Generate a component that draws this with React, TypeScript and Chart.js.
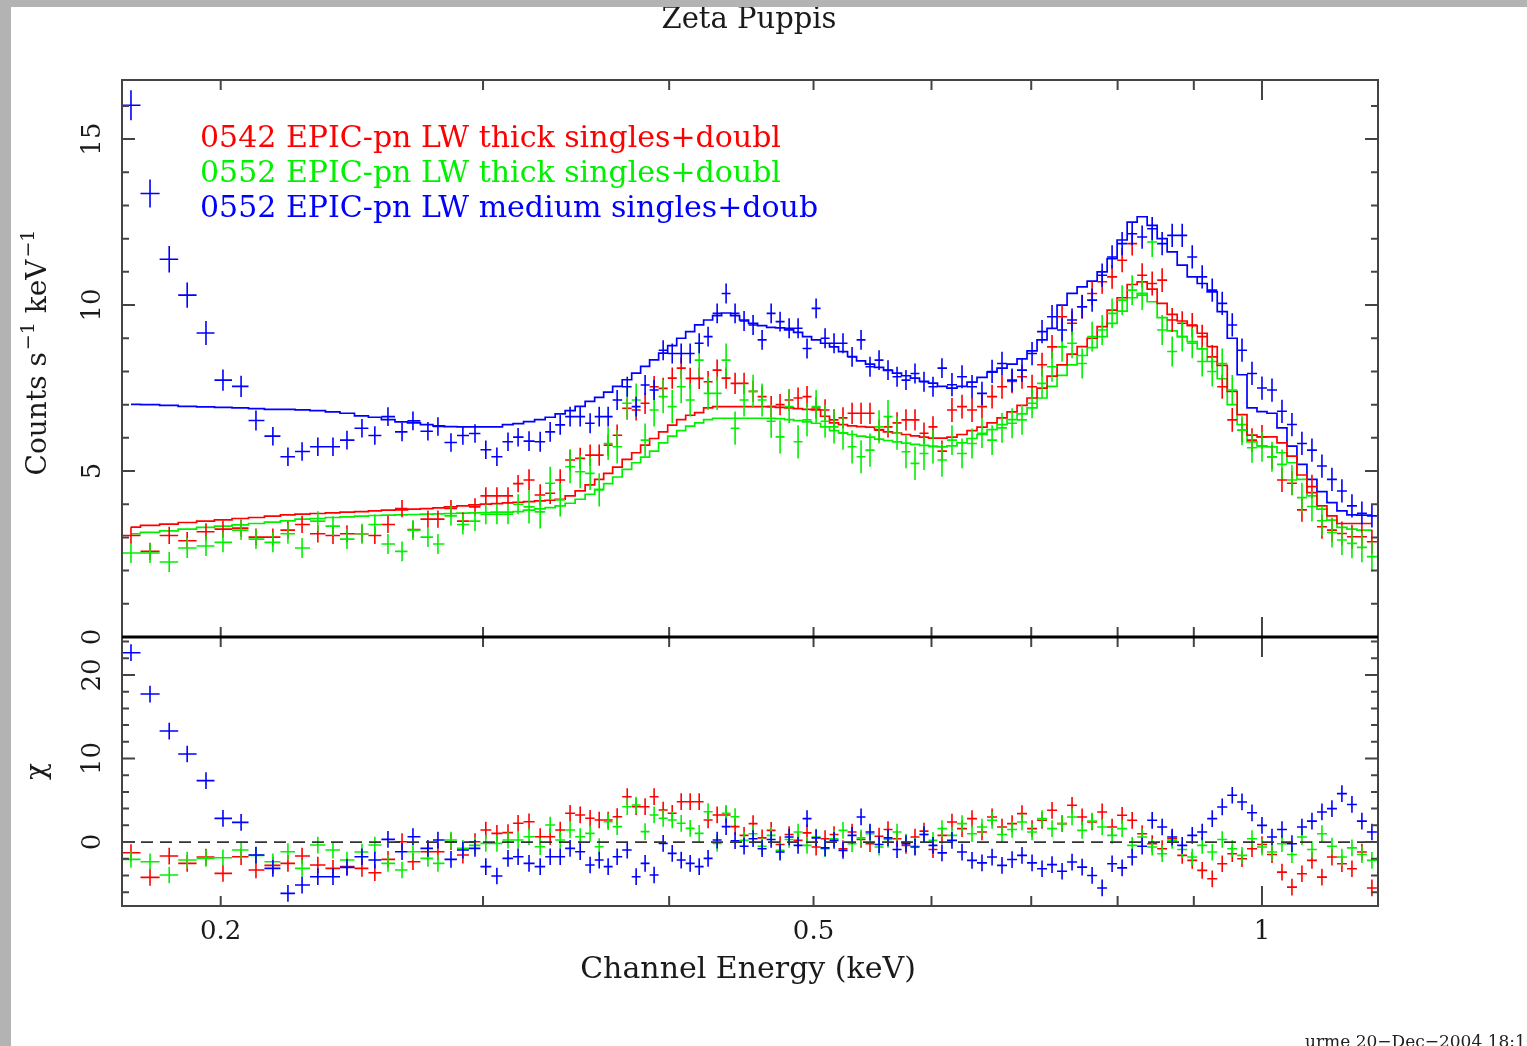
import React, { useEffect, useRef } from "react";
import { Chart, registerables } from "chart.js";

Chart.register(...registerables);

// ---------- chart values ----------
const titleText = "Zeta Puppis";
const xAxisTitle = "Channel Energy (keV)";
const footerText = "urme 20\u2212Dec\u22122004 18:10";

const energies = [
  0.1741, 0.1793, 0.1847, 0.1899, 0.1955, 0.2007, 0.2064, 0.2112, 0.2168, 0.2219,
  0.2268, 0.2324, 0.2379, 0.2431, 0.2488, 0.2538, 0.2590, 0.2647, 0.2692, 0.2755,
  0.2798, 0.2855, 0.2908, 0.2963, 0.3013, 0.3065, 0.3118, 0.3167,
  0.3221, 0.3277, 0.3328, 0.3380, 0.3432, 0.3486, 0.3540, 0.3590, 0.3640, 0.3691,
  0.3749, 0.3801, 0.3854, 0.3908, 0.3963, 0.4019, 0.4075, 0.4132, 0.4190, 0.4248,
  0.4308, 0.4368, 0.4429, 0.4491, 0.4554, 0.4618, 0.4683, 0.4748, 0.4815, 0.4882,
  0.4950, 0.5020, 0.5090, 0.5161, 0.5233, 0.5307, 0.5381, 0.5456, 0.5533, 0.5610,
  0.5689, 0.5768, 0.5849, 0.5931, 0.6014, 0.6098,
  0.6193, 0.6290, 0.6388, 0.6487, 0.6589, 0.6691, 0.6796, 0.6901, 0.7009, 0.7118,
  0.7229, 0.7342, 0.7456, 0.7573, 0.7691, 0.7811, 0.7932, 0.8056, 0.8182, 0.8309,
  0.8439, 0.8570, 0.8704, 0.8840, 0.8978, 0.9117, 0.9260, 0.9404, 0.9551, 0.9696,
  0.9847, 1.0000, 1.0156, 1.0314, 1.0474, 1.0637, 1.0803, 1.0971, 1.1142, 1.1315,
  1.1492, 1.1670, 1.1852,
];

// 0542 EPIC-pn LW thick (red)
const redCounts = [
  3.06, 2.58, 3.06, 2.90, 3.17, 3.25, 3.28, 3.01, 3.01, 3.22,
  3.39, 3.11, 3.06, 3.11, 3.11, 3.06, 3.39, 3.87, 3.24, 3.55,
  3.55, 3.87, 3.49, 3.92, 4.25, 4.25, 4.25, 4.62,
  4.73, 4.28, 4.33, 4.73, 5.33, 5.38, 5.48, 5.48, 5.78, 6.08,
  6.89, 6.84, 7.04, 7.54, 7.49, 7.80, 8.10, 7.79, 7.79, 7.69,
  8.04, 7.80, 7.64, 7.64, 7.40, 7.24, 6.94, 7.00, 7.14, 7.20,
  7.24, 6.90, 6.84, 6.54, 6.60, 6.74, 6.74, 6.74, 6.23, 6.33,
  6.45, 6.54, 6.54, 6.14, 6.33, 5.60,
  6.84, 6.94, 6.84, 6.94, 7.24, 7.54, 7.70, 7.84, 7.54, 8.20,
  8.74, 9.65, 9.45, 9.95, 10.35, 10.70, 10.85, 11.35, 11.85, 10.90,
  10.65, 10.75, 9.55, 9.45, 9.40, 9.05, 8.44, 7.54, 6.54, 6.23,
  5.93, 6.03, 5.43, 4.73, 4.63, 3.83, 4.53, 3.32, 3.22, 3.12,
  3.02, 3.02, 2.87,
];
const redErrors = [
  0.26, 0.26, 0.26, 0.26, 0.26, 0.26, 0.26, 0.26, 0.26, 0.26,
  0.26, 0.26, 0.26, 0.26, 0.26, 0.26, 0.26, 0.26, 0.26, 0.26,
  0.26, 0.26, 0.26, 0.26, 0.26, 0.26, 0.26, 0.26,
  0.32, 0.32, 0.32, 0.32, 0.32, 0.32, 0.32, 0.32, 0.32, 0.32,
  0.32, 0.32, 0.32, 0.32, 0.32, 0.32, 0.32, 0.32, 0.32, 0.32,
  0.32, 0.32, 0.32, 0.32, 0.32, 0.32, 0.32, 0.32, 0.32, 0.32,
  0.32, 0.32, 0.32, 0.32, 0.32, 0.32, 0.32, 0.32, 0.32, 0.32,
  0.32, 0.32, 0.32, 0.32, 0.32, 0.32,
  0.36, 0.36, 0.36, 0.36, 0.36, 0.36, 0.36, 0.36, 0.36, 0.36,
  0.36, 0.36, 0.36, 0.36, 0.36, 0.36, 0.36, 0.36, 0.36, 0.36,
  0.36, 0.36, 0.36, 0.36, 0.36, 0.36, 0.36, 0.36, 0.36, 0.36,
  0.36, 0.36, 0.36, 0.36, 0.36, 0.36, 0.36, 0.36, 0.36, 0.36,
  0.36, 0.36, 0.36,
];
const redModel = [
  3.31, 3.36, 3.40, 3.45, 3.49, 3.53, 3.57, 3.60, 3.64, 3.68,
  3.70, 3.72, 3.74, 3.76, 3.78, 3.80, 3.82, 3.83, 3.85, 3.87,
  3.89, 3.92, 3.95, 3.98, 4.00, 4.02, 4.04, 4.06,
  4.08, 4.10, 4.12, 4.15, 4.25, 4.40, 4.58, 4.75, 4.93, 5.12,
  5.35, 5.55, 5.78, 5.98, 6.18, 6.38, 6.55, 6.68, 6.76, 6.90,
  6.94, 6.94, 6.94, 6.94, 6.94, 6.94, 6.94, 6.92, 6.90, 6.88,
  6.86, 6.84, 6.65, 6.45, 6.40, 6.36, 6.34, 6.32, 6.25, 6.18,
  6.14, 6.10, 6.06, 6.02, 5.99, 5.99,
  6.02, 6.10, 6.22, 6.32, 6.45, 6.60, 6.78, 6.98, 7.20, 7.50,
  7.86, 8.20, 8.52, 8.75, 9.00, 9.35, 9.85, 10.22, 10.62, 10.70,
  10.48, 10.05, 9.72, 9.52, 9.38, 9.15, 8.75, 8.18, 7.40, 6.70,
  6.08, 6.03, 6.03, 5.85, 5.45, 4.88, 4.35, 3.95, 3.65, 3.42,
  3.42, 3.42, 3.42,
];
const redResiduals = [
  -1.28, -4.23, -1.68, -2.56, -1.80, -3.75, -1.76, -3.35, -2.80, -2.56,
  -1.68, -2.75, -3.15, -2.95, -3.15, -3.67, -2.08, 0.04, -2.36, -1.16,
  -1.16, 0.04, -1.56, 0.04, 1.44, 1.04, 1.12, 2.24,
  2.43, 0.64, 0.64, 1.44, 3.44, 3.24, 2.84, 2.64, 2.64, 3.03,
  5.43, 4.23, 4.23, 5.43, 3.83, 3.44, 4.83, 4.83, 4.83, 2.64,
  3.24, 3.24, 1.84, 0.80, 2.20, 0.50, 1.40, -0.30, 0.90, 0.20,
  1.10, -0.60, 0.40, 0.90, -0.80, 1.20, 0.30, -0.20, 0.70, 1.50,
  0.40, -0.40, 0.60, 1.30, -0.90, 0.80,
  2.40, 1.60, 2.80, 1.20, 3.00, 1.80, 2.20, 3.40, 1.60, 2.60,
  3.80, 2.20, 4.40, 3.00, 2.40, 3.60, 1.80, 3.20, 2.60, 1.00,
  -0.20, -0.80, 0.40, -1.60, -2.20, -3.40, -4.40, -2.60, -1.40, -2.00,
  -0.80, -0.30, -1.50, -3.60, -5.40, -3.80, -2.20, -4.20, -1.80, -2.60,
  -3.20, -1.20, -5.50,
];

// 0552 EPIC-pn LW thick (green)
const greenCounts = [
  2.53, 2.53, 2.26, 2.68, 2.74, 2.85, 3.22, 2.95, 2.85, 3.11,
  2.68, 3.49, 3.34, 2.95, 3.11, 3.39, 2.80, 2.58, 3.22, 3.01,
  2.80, 3.65, 3.39, 3.49, 3.70, 3.70, 3.70, 4.00,
  3.92, 3.77, 4.63, 4.13, 5.13, 4.98, 4.93, 4.43, 5.83, 5.73,
  7.04, 7.14, 5.93, 6.84, 7.24, 6.94, 7.54, 7.14, 8.34, 7.34,
  7.34, 8.34, 6.29, 7.14, 7.40, 7.14, 6.50, 6.03, 6.94, 5.88,
  6.54, 6.94, 6.50, 6.33, 6.14, 5.73, 5.43, 5.63, 6.33, 6.64,
  6.14, 5.58, 5.23, 5.53, 5.73, 5.33,
  5.93, 5.53, 5.83, 6.14, 5.93, 6.30, 6.44, 6.54, 7.04, 7.64,
  8.14, 8.74, 8.85, 8.24, 9.05, 9.25, 9.75, 10.15, 10.45, 10.30,
  11.90, 9.25, 8.60, 9.05, 8.85, 8.30, 8.00, 8.24, 7.44, 6.23,
  5.70, 5.73, 5.43, 5.20, 4.73, 4.20, 3.93, 3.50, 3.15, 2.92,
  2.82, 2.70, 2.42,
];
const greenErrors = [
  0.30, 0.30, 0.30, 0.30, 0.30, 0.30, 0.30, 0.30, 0.30, 0.30,
  0.30, 0.30, 0.30, 0.30, 0.30, 0.30, 0.30, 0.30, 0.30, 0.30,
  0.30, 0.30, 0.30, 0.30, 0.30, 0.30, 0.30, 0.30,
  0.50, 0.50, 0.50, 0.50, 0.50, 0.50, 0.50, 0.50, 0.50, 0.50,
  0.50, 0.50, 0.50, 0.50, 0.50, 0.50, 0.50, 0.50, 0.50, 0.50,
  0.50, 0.50, 0.50, 0.50, 0.50, 0.50, 0.50, 0.50, 0.50, 0.50,
  0.50, 0.50, 0.50, 0.50, 0.50, 0.50, 0.50, 0.50, 0.50, 0.50,
  0.50, 0.50, 0.50, 0.50, 0.50, 0.50,
  0.45, 0.45, 0.45, 0.45, 0.45, 0.45, 0.45, 0.45, 0.45, 0.45,
  0.45, 0.45, 0.45, 0.45, 0.45, 0.45, 0.45, 0.45, 0.45, 0.45,
  0.45, 0.45, 0.45, 0.45, 0.45, 0.45, 0.45, 0.45, 0.45, 0.45,
  0.45, 0.45, 0.45, 0.45, 0.45, 0.45, 0.45, 0.45, 0.45, 0.45,
  0.45, 0.45, 0.45,
];
const greenModel = [
  3.11, 3.15, 3.20, 3.25, 3.30, 3.34, 3.38, 3.42, 3.46, 3.50,
  3.55, 3.57, 3.60, 3.62, 3.64, 3.66, 3.67, 3.68, 3.69, 3.70,
  3.71, 3.72, 3.73, 3.74, 3.75, 3.76, 3.76, 3.78,
  3.82, 3.86, 3.90, 3.95, 4.03, 4.15, 4.30, 4.45, 4.62, 4.82,
  5.05, 5.25, 5.42, 5.60, 5.85, 6.05, 6.22, 6.35, 6.45, 6.55,
  6.59, 6.59, 6.59, 6.59, 6.59, 6.59, 6.59, 6.58, 6.55, 6.52,
  6.48, 6.44, 6.33, 6.22, 6.15, 6.10, 6.05, 6.02, 5.96, 5.92,
  5.88, 5.84, 5.80, 5.77, 5.75, 5.73,
  5.76, 5.85, 5.98, 6.10, 6.25, 6.40, 6.55, 6.72, 6.90, 7.20,
  7.55, 7.88, 8.20, 8.48, 8.72, 9.05, 9.45, 9.82, 10.22, 10.35,
  10.10, 9.62, 9.22, 9.05, 8.90, 8.68, 8.30, 7.78, 7.00, 6.40,
  5.88, 5.76, 5.73, 5.55, 5.25, 4.75, 4.25, 3.85, 3.52, 3.30,
  3.25, 3.22, 3.22,
];
const greenResiduals = [
  -2.08, -2.36, -3.95, -2.16, -1.96, -1.88, -0.96, -1.60, -2.36, -1.16,
  -3.15, -0.36, -0.96, -2.16, -1.20, -0.36, -2.56, -3.35, -1.16, -1.96,
  -2.56, 0.24, -0.76, -0.40, -0.16, -0.16, 0.24, 0.24,
  0.64, -0.56, 2.04, 0.24, 1.44, 0.64, 1.04, -0.56, 2.43, 1.84,
  4.23, 4.43, 1.24, 3.24, 2.84, 2.64, 2.24, 1.64, 1.04, 3.63,
  -0.16, 3.44, 3.03, 0.20, 1.00, -0.50, 0.80, -1.00, 0.30, 1.20,
  -0.40, 0.60, -0.80, 0.40, 1.40, -0.20, 0.50, 1.00, -0.60, 0.30,
  1.20, 0.00, -0.50, 0.90, 0.20, 1.60,
  0.80, 2.20, 1.00, 1.80, 2.60, 0.90, 1.50, 2.40, 1.20, 2.80,
  1.60, 2.20, 3.00, 1.40, 2.50, 1.80, 0.80, 1.60, -0.40, 0.60,
  -0.60, -1.40, 0.20, -0.90, -1.80, -0.40, -1.20, 0.30, -0.80, -1.60,
  0.40, -0.60, -1.20, -0.20, -1.50, 0.60, -0.90, 1.00, -0.50, -1.80,
  -0.70, -1.50, -2.20,
];

// 0552 EPIC-pn LW medium (blue)
const blueCounts = [
  16.02, 13.36, 11.38, 10.30, 9.16, 7.74, 7.55, 6.52, 6.05, 5.43,
  5.59, 5.73, 5.73, 5.93, 6.29, 6.07, 6.64, 6.18, 6.51, 6.20,
  6.34, 5.86, 6.07, 6.13, 5.64, 5.43, 5.88, 6.02,
  5.90, 5.88, 6.18, 6.39, 6.64, 6.64, 6.44, 6.64, 6.64, 7.14,
  7.54, 6.94, 7.59, 7.44, 8.64, 8.54, 8.54, 8.54, 8.85, 9.05,
  9.75, 10.35, 9.75, 9.52, 9.40, 8.95, 9.75, 9.50, 9.30, 9.30,
  8.69, 9.90, 9.00, 8.85, 8.85, 8.44, 8.95, 8.14, 8.34, 8.04,
  7.84, 7.74, 7.94, 7.69, 7.54, 8.10,
  7.60, 7.84, 7.54, 7.34, 8.00, 8.24, 7.74, 8.04, 8.54, 9.20,
  9.65, 9.25, 9.55, 9.95, 10.15, 10.90, 11.45, 11.85, 12.15, 12.05,
  12.30, 11.85, 12.10, 12.10, 11.45, 10.85, 10.45, 10.05, 9.40, 8.64,
  7.94, 7.50, 7.44, 6.80, 6.40, 5.83, 5.63, 5.15, 4.75, 4.40,
  3.95, 3.73, 3.65,
];
const blueErrors = [
  0.45, 0.42, 0.40, 0.38, 0.36, 0.32, 0.32, 0.30, 0.28, 0.28,
  0.28, 0.28, 0.28, 0.28, 0.28, 0.28, 0.28, 0.28, 0.28, 0.28,
  0.28, 0.28, 0.28, 0.28, 0.28, 0.28, 0.28, 0.28,
  0.30, 0.30, 0.30, 0.30, 0.30, 0.30, 0.30, 0.30, 0.30, 0.30,
  0.30, 0.30, 0.30, 0.30, 0.30, 0.30, 0.30, 0.30, 0.30, 0.30,
  0.30, 0.30, 0.30, 0.30, 0.30, 0.30, 0.30, 0.30, 0.30, 0.30,
  0.30, 0.30, 0.30, 0.30, 0.30, 0.30, 0.30, 0.30, 0.30, 0.30,
  0.30, 0.30, 0.30, 0.30, 0.30, 0.30,
  0.35, 0.35, 0.35, 0.35, 0.35, 0.35, 0.35, 0.35, 0.35, 0.35,
  0.35, 0.35, 0.35, 0.35, 0.35, 0.35, 0.35, 0.35, 0.35, 0.35,
  0.35, 0.35, 0.35, 0.35, 0.35, 0.35, 0.35, 0.35, 0.35, 0.35,
  0.35, 0.35, 0.35, 0.35, 0.35, 0.35, 0.35, 0.35, 0.35, 0.35,
  0.35, 0.35, 0.35,
];
const blueModel = [
  7.01, 7.00, 6.98, 6.95, 6.93, 6.92, 6.90, 6.88, 6.86, 6.86,
  6.84, 6.82, 6.78, 6.74, 6.66, 6.62, 6.55, 6.48, 6.45, 6.40,
  6.36, 6.34, 6.33, 6.33, 6.33, 6.33, 6.40, 6.43,
  6.49, 6.55, 6.62, 6.72, 6.82, 6.95, 7.10, 7.22, 7.38, 7.55,
  7.75, 7.95, 8.15, 8.35, 8.55, 8.78, 9.00, 9.20, 9.40, 9.55,
  9.68, 9.76, 9.68, 9.55, 9.45, 9.38, 9.33, 9.31, 9.25, 9.18,
  9.05, 8.95, 8.85, 8.74, 8.60, 8.45, 8.32, 8.22, 8.12, 8.03,
  7.95, 7.87, 7.80, 7.70, 7.65, 7.55,
  7.50, 7.55, 7.68, 7.82, 7.98, 8.10, 8.22, 8.38, 8.62, 8.95,
  9.30, 10.00, 10.35, 10.55, 10.72, 11.00, 11.40, 11.96, 12.50, 12.66,
  12.40, 12.00, 11.60, 11.20, 10.85, 10.65, 10.40, 9.80, 9.00, 7.90,
  6.90, 6.79, 6.74, 6.30, 5.75, 5.20, 4.75, 4.38, 4.05, 3.80,
  3.68, 3.67, 3.67,
];
const blueResiduals = [
  22.67, 17.72, 13.29, 10.54, 7.35, 2.83, 2.35, -1.56, -3.16, -6.15,
  -5.15, -4.15, -4.15, -3.04, -1.76, -2.16, 0.32, -1.16, 0.64, -0.76,
  0.24, -2.08, -0.96, -0.76, -2.95, -4.07, -1.96, -1.76,
  -2.56, -2.95, -1.76, -1.76, -0.76, -1.16, -2.75, -2.16, -2.95, -1.76,
  -0.96, -4.15, -2.56, -3.95, -0.16, -1.36, -2.16, -2.56, -2.95, -1.96,
  0.24, 1.84, 0.16, -0.50, 0.40, -0.80, 0.30, -1.20, 0.60, -0.40,
  2.80, 0.50, -0.70, 0.20, -1.00, 0.80, 3.00, 1.20, -0.30, 0.50,
  -0.90, -0.20, -0.60, 0.90, -0.40, -1.30,
  0.20, -1.20, -2.20, -2.50, -1.80, -2.80, -2.10, -1.60, -2.50, -3.20,
  -2.70, -3.50, -2.40, -3.00, -4.00, -5.50, -2.60, -3.10, -1.80, -0.50,
  2.60, 1.80, 0.60, -0.40, 0.80, 1.20, 2.80, 4.20, 5.60, 4.80,
  3.50, 2.00, 0.60, 1.50, -0.20, 1.80, 2.50, 3.60, 4.00, 5.80,
  4.50, 2.50, 1.20,
];

const seriesNames = [
  "0542 EPIC-pn LW thick singles+doubl",
  "0552 EPIC-pn LW thick singles+doubl",
  "0552 EPIC-pn LW medium singles+doub",
];
const seriesColors = ["#ff0000", "#00f000", "#0000ff"];
const RESIDUAL_ERROR = 1; // residuals are in units of sigma

// axes
const X_MIN = 0.1717;
const X_MAX = 1.1964;
const COUNTS_MIN = 0;
const COUNTS_MAX = 16.78;
const CHI_MIN = -7.66;
const CHI_MAX = 24.55;
const xTickValues = [0.2, 0.3, 0.4, 0.5, 0.6, 0.7, 0.8, 0.9, 1];
const xTickLabels = ["0.2", "", "", "0.5", "", "", "", "", "1"];
const xLongTicks = [1];
const countsMajorTicks = [0, 5, 10, 15];
const countsMinorTicks = [1, 2, 3, 4, 6, 7, 8, 9, 11, 12, 13, 14, 16];
const chiMajorTicks = [0, 10, 20];
const chiMinorTicks = [-6, -4, -2, 2, 4, 6, 8, 12, 14, 16, 18, 22, 24];

// ---------- plugins ----------
const FONT = '"DejaVu Serif", "Liberation Serif", serif';

const errorBarPlugin = {
  id: "xspecErrorBars",
  afterDatasetsDraw(chart: any) {
    const { ctx, chartArea: ca } = chart;
    const xs = chart.scales.x;
    ctx.save();
    ctx.beginPath();
    ctx.rect(ca.left, ca.top, ca.right - ca.left, ca.bottom - ca.top);
    ctx.clip();
    chart.data.datasets.forEach((ds: any) => {
      if (!ds.errorBars) return;
      const ys = chart.scales[ds.yAxisID];
      const pts = ds.data;
      const n = pts.length;
      const px = pts.map((p: any) => xs.getPixelForValue(p.x));
      ctx.strokeStyle = ds.crossColor;
      ctx.lineWidth = 1.6;
      ctx.beginPath();
      for (let i = 0; i < n; i++) {
        const l = i > 0 ? (px[i] + px[i - 1]) / 2 : px[i] - (px[i + 1] - px[i]) / 2;
        const r = i < n - 1 ? (px[i] + px[i + 1]) / 2 : px[i] + (px[i] - px[i - 1]) / 2;
        const y = ys.getPixelForValue(pts[i].y);
        const e = ds.errorBars[i];
        const yHi = ys.getPixelForValue(pts[i].y + e);
        const yLo = ys.getPixelForValue(pts[i].y - e);
        ctx.moveTo(l, y);
        ctx.lineTo(r, y);
        ctx.moveTo(px[i], yLo);
        ctx.lineTo(px[i], yHi);
      }
      ctx.stroke();
    });
    ctx.restore();
  },
};

function rotatedText(ctx: CanvasRenderingContext2D, text: string, x: number, y: number) {
  ctx.save();
  ctx.translate(x, y);
  ctx.rotate(-Math.PI / 2);
  ctx.fillText(text, 0, 0);
  ctx.restore();
}

const framePlugin = {
  id: "xspecFrame",
  afterDraw(chart: any) {
    const { ctx, chartArea: ca } = chart;
    const xs = chart.scales.x;
    const yc = chart.scales.y;
    const yr = chart.scales.y2;
    ctx.save();

    // zero line of residual panel
    const z = yr.getPixelForValue(0);
    ctx.setLineDash([12, 7]);
    ctx.strokeStyle = "#333";
    ctx.lineWidth = 1.8;
    ctx.beginPath();
    ctx.moveTo(ca.left, z);
    ctx.lineTo(ca.right, z);
    ctx.stroke();
    ctx.setLineDash([]);

    // tick marks (inside, all four sides)
    ctx.strokeStyle = "#444";
    ctx.lineWidth = 2;
    ctx.beginPath();
    xTickValues.forEach((v) => {
      const x = xs.getPixelForValue(v);
      const L = xLongTicks.includes(v) ? 20 : 10;
      [yc, yr].forEach((sc: any) => {
        ctx.moveTo(x, sc.top);
        ctx.lineTo(x, sc.top + L);
        ctx.moveTo(x, sc.bottom);
        ctx.lineTo(x, sc.bottom - L);
      });
    });
    const yTicks = (sc: any, vals: number[], L: number) =>
      vals.forEach((v) => {
        const y = sc.getPixelForValue(v);
        ctx.moveTo(ca.left, y);
        ctx.lineTo(ca.left + L, y);
        ctx.moveTo(ca.right, y);
        ctx.lineTo(ca.right - L, y);
      });
    yTicks(yc, countsMajorTicks, 13);
    yTicks(yc, countsMinorTicks, 7);
    yTicks(yr, chiMajorTicks, 13);
    yTicks(yr, chiMinorTicks, 7);
    ctx.stroke();

    // frames
    ctx.strokeStyle = "#444";
    ctx.lineWidth = 2;
    ctx.strokeRect(ca.left, yc.top, ca.right - ca.left, yc.bottom - yc.top);
    ctx.strokeRect(ca.left, yr.top, ca.right - ca.left, yr.bottom - yr.top);
    ctx.strokeStyle = "#000";
    ctx.lineWidth = 3;
    ctx.beginPath();
    ctx.moveTo(ca.left, yc.bottom);
    ctx.lineTo(ca.right, yc.bottom);
    ctx.stroke();

    // texts
    ctx.fillStyle = "#1a1a1a";
    ctx.textAlign = "center";
    ctx.textBaseline = "alphabetic";
    ctx.font = `29px ${FONT}`;
    ctx.fillText(titleText, (ca.left + ca.right) / 2 - 1, 21);

    ctx.textBaseline = "middle";
    ctx.font = `26px ${FONT}`;
    xTickValues.forEach((v, i) => {
      if (!xTickLabels[i]) return;
      ctx.fillText(xTickLabels[i], xs.getPixelForValue(v), ca.bottom + 26);
    });
    countsMajorTicks.forEach((v) => rotatedText(ctx, String(v), ca.left - 29, yc.getPixelForValue(v)));
    chiMajorTicks.forEach((v) => rotatedText(ctx, String(v), ca.left - 29, yr.getPixelForValue(v)));

    ctx.font = `30px ${FONT}`;
    ctx.fillText(xAxisTitle, (ca.left + ca.right) / 2 - 2, ca.bottom + 64);

    // y title with superscripts
    const parts = [
      { t: "Counts s", sup: false },
      { t: "\u22121", sup: true },
      { t: " keV", sup: false },
      { t: "\u22121", sup: true },
    ];
    const fontFor = (sup: boolean) => (sup ? `19px ${FONT}` : `28px ${FONT}`);
    let total = 0;
    const widths = parts.map((p) => {
      ctx.font = fontFor(p.sup);
      const w = ctx.measureText(p.t).width + (p.sup ? 2 : 0);
      total += w;
      return w;
    });
    ctx.save();
    ctx.translate(ca.left - 76, (yc.top + yc.bottom) / 2 - 6);
    ctx.rotate(-Math.PI / 2);
    ctx.textAlign = "left";
    ctx.textBaseline = "alphabetic";
    let cx = -total / 2;
    parts.forEach((p, i) => {
      ctx.font = fontFor(p.sup);
      ctx.fillText(p.t, cx + (p.sup ? 2 : 0), p.sup ? -12 : 0);
      cx += widths[i];
    });
    ctx.restore();

    ctx.font = `28px ${FONT}`;
    rotatedText(ctx, "\u03c7", ca.left - 84, (yr.top + yr.bottom) / 2);

    // series labels
    ctx.font = `30px ${FONT}`;
    ctx.textAlign = "left";
    seriesNames.forEach((name, i) => {
      ctx.fillStyle = seriesColors[i];
      ctx.fillText(name, ca.left + 78, ca.top + 59 + i * 35);
    });

    // plot stamp
    ctx.fillStyle = "#222";
    ctx.font = `17px ${FONT}`;
    ctx.fillText(footerText, ca.left + 1183, ca.bottom + 137);

    ctx.restore();
  },
};

export default function App() {
  const canvasRef = useRef<HTMLCanvasElement>(null);

  useEffect(() => {
    const canvas = canvasRef.current;
    if (!canvas) return;
    const counts = [redCounts, greenCounts, blueCounts];
    const errors = [redErrors, greenErrors, blueErrors];
    const models = [redModel, greenModel, blueModel];
    const residuals = [redResiduals, greenResiduals, blueResiduals];
    const toPoints = (arr: number[]) => energies.map((e, i) => ({ x: e, y: arr[i] }));

    const datasets: any[] = [];
    for (let s = 0; s < 3; s++) {
      datasets.push({
        label: seriesNames[s] + " model",
        data: toPoints(models[s]),
        yAxisID: "y",
        showLine: true,
        stepped: "middle",
        borderColor: seriesColors[s],
        borderWidth: 1.7,
        pointRadius: 0,
        pointHoverRadius: 0,
        fill: false,
      });
    }
    for (let s = 0; s < 3; s++) {
      datasets.push({
        label: seriesNames[s],
        data: toPoints(counts[s]),
        yAxisID: "y",
        showLine: false,
        pointRadius: 0,
        pointHoverRadius: 0,
        errorBars: errors[s],
        crossColor: seriesColors[s],
      });
    }
    for (let s = 0; s < 3; s++) {
      datasets.push({
        label: seriesNames[s] + " residuals",
        data: toPoints(residuals[s]),
        yAxisID: "y2",
        showLine: false,
        pointRadius: 0,
        pointHoverRadius: 0,
        errorBars: energies.map(() => RESIDUAL_ERROR),
        crossColor: seriesColors[s],
      });
    }

    const chart = new Chart(canvas, {
      type: "scatter",
      data: { datasets },
      options: {
        animation: false,
        responsive: false,
        devicePixelRatio: 1,
        events: [],
        layout: { padding: { left: 111, top: 73, right: 149, bottom: 140 } },
        plugins: {
          legend: { display: false },
          tooltip: { enabled: false },
          title: { display: false },
        },
        scales: {
          x: { type: "logarithmic", min: X_MIN, max: X_MAX, display: false },
          y: {
            type: "linear",
            min: COUNTS_MIN,
            max: COUNTS_MAX,
            position: "left",
            stack: "panels",
            stackWeight: 557,
            weight: 2,
            display: false,
          },
          y2: {
            type: "linear",
            min: CHI_MIN,
            max: CHI_MAX,
            position: "left",
            stack: "panels",
            stackWeight: 269,
            weight: 1,
            display: false,
          },
        },
      } as any,
      plugins: [errorBarPlugin, framePlugin],
    });
    return () => chart.destroy();
  }, []);

  return (
    <div
      style={{
        position: "fixed",
        left: 0,
        top: 0,
        width: 1527,
        height: 1046,
        background: "#b3b3b3",
        overflow: "hidden",
      }}
    >
      <div
        style={{
          position: "absolute",
          left: 11,
          top: 7,
          width: 1516,
          height: 1039,
          background: "#ffffff",
        }}
      >
        <canvas ref={canvasRef} width={1516} height={1039} style={{ display: "block" }} />
      </div>
    </div>
  );
}
